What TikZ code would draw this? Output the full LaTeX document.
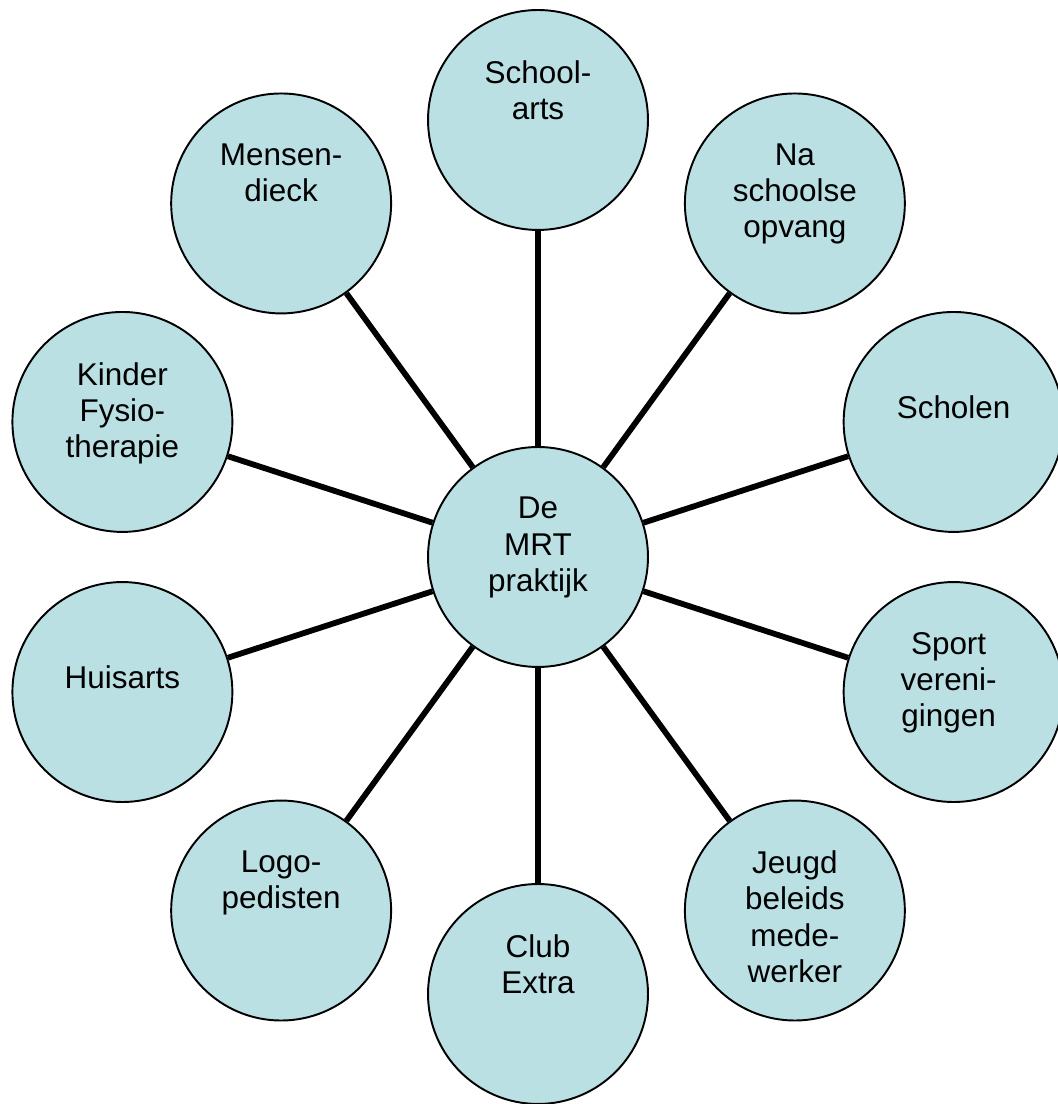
\documentclass[tikz,border=0pt]{standalone}
\usepackage{fontspec}
\setmainfont{Liberation Sans}
\usepackage{xcolor}
\usetikzlibrary{calc}
\definecolor{bolblauw}{RGB}{186,224,228}

\begin{document}
\begin{tikzpicture}[x=0.02cm,y=0.02cm,
		bol/.style={circle,draw,line width=1.1pt,fill=bolblauw,minimum size=4.4cm,inner sep=0pt},
		tekst/.style={anchor=north,align=center,inner sep=0pt,font=\fontsize{17.9}{20.6}\selectfont},
		lijn/.style={line width=3.3pt}]
			\useasboundingbox (0,0) rectangle (1057,1104);
			\node[bol] (mrt) at (538,547) {};
			\node[bol] (arts) at ($(mrt)+(90:437)$) {};
			\node[bol] (opvang) at ($(mrt)+(54:437)$) {};
			\node[bol] (scholen) at ($(mrt)+(18:437)$) {};
			\node[bol] (sport) at ($(mrt)+(-18:437)$) {};
			\node[bol] (jeugd) at ($(mrt)+(-54:437)$) {};
			\node[bol] (club) at ($(mrt)+(-90:437)$) {};
			\node[bol] (logo) at ($(mrt)+(-126:437)$) {};
			\node[bol] (huisarts) at ($(mrt)+(-162:437)$) {};
			\node[bol] (fysio) at ($(mrt)+(162:437)$) {};
			\node[bol] (mensen) at ($(mrt)+(126:437)$) {};
			\foreach \b in {arts,opvang,scholen,sport,jeugd,club,logo,huisarts,fysio,mensen}
				\draw[lijn] (mrt) -- (\b);
			\node[tekst] (mrt-t) at ($(mrt)+(0,60)$) {De\\MRT\\praktijk};
			\node[tekst] (arts-t) at ($(arts)+(0,60)$) {School-\\arts};
			\node[tekst] (opvang-t) at ($(opvang)+(0,60)$) {Na\\schoolse\\opvang};
			\node[tekst] (scholen-t) at ($(scholen)+(0,27)$) {Scholen};
			\node[tekst] (sport-t) at ($(sport)+(-5,60)$) {Sport\\vereni-\\gingen};
			\node[tekst] (jeugd-t) at ($(jeugd)+(0,60)$) {Jeugd\\beleids\\mede-\\werker};
			\node[tekst] (club-t) at ($(club)+(0,60)$) {Club\\Extra};
			\node[tekst] (logo-t) at ($(logo)+(0,60)$) {Logo-\\pedisten};
			\node[tekst] (huisarts-t) at ($(huisarts)+(0,27)$) {Huisarts};
			\node[tekst] (fysio-t) at ($(fysio)+(0,60)$) {Kinder\\Fysio-\\therapie};
			\node[tekst] (mensen-t) at ($(mensen)+(0,60)$) {Mensen-\\dieck};
		\end{tikzpicture}
\end{document}
